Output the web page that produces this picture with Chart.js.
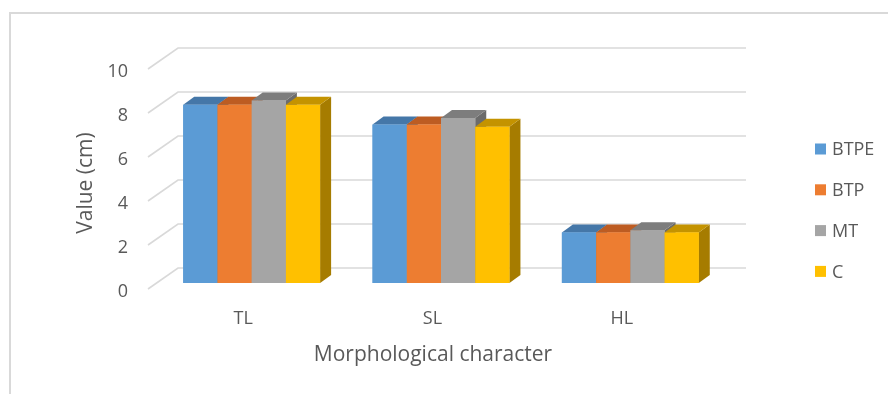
<!DOCTYPE html>
<html>
<head>
<meta charset="utf-8">
<script src="https://cdn.jsdelivr.net/npm/chart.js@4"></script>
<style>
  html, body { margin: 0; padding: 0; background: #ffffff; }
  #wrap { position: relative; width: 888px; height: 394px; }
</style>
</head>
<body>
<div id="wrap"><canvas id="c" width="888" height="394"></canvas></div>
<script>
// Morphological characters measured for four groups (cm)
const categories = ['TL', 'SL', 'HL'];
const seriesNames = ['BTPE', 'BTP', 'MT', 'C'];
const btpeValues = [8.1, 7.2, 2.3];
const btpValues = [8.1, 7.2, 2.3];
const mtValues = [8.3, 7.5, 2.4];
const cValues = [8.1, 7.1, 2.3];
const yTickValues = [0, 2, 4, 6, 8, 10];
const yAxisTitle = 'Value (cm)';
const xAxisTitle = 'Morphological character';

const frontColors = ['#5B9BD5', '#ED7D31', '#A5A5A5', '#FFC000'];
const topColors = ['#4577A8', '#BD5C22', '#7D7D7D', '#C49300'];
const sideColors = ['#3B6894', '#A5501D', '#6B6B6B', '#A67C00'];
const textColor = '#595959';
const FONT = '"Open Sans", Lato, sans-serif';

// depth offsets of the 3D look
const DEPTH = { barDx: 11, barDy: -8, backDx: 21, backDy: -15, frontDx: -9, frontDy: 6 };

const depthPlugin = {
  id: 'depth3d',
  beforeDraw(chart) {
    const ctx = chart.ctx;
    ctx.save();
    ctx.fillStyle = '#ffffff';
    ctx.fillRect(0, 0, chart.width, chart.height);
    // outer frame
    ctx.strokeStyle = '#D9D9D9';
    ctx.lineWidth = 2;
    ctx.beginPath();
    ctx.moveTo(10, chart.height + 2);
    ctx.lineTo(10, 13);
    ctx.lineTo(chart.width + 2, 13);
    ctx.stroke();
    ctx.restore();
  },
  beforeDatasetsDraw(chart) {
    const ctx = chart.ctx;
    const area = chart.chartArea;
    const yScale = chart.scales.y;
    ctx.save();
    ctx.strokeStyle = '#D9D9D9';
    ctx.lineWidth = 1.6;
    yTickValues.forEach(v => {
      const y = yScale.getPixelForValue(v);
      ctx.beginPath();
      ctx.moveTo(area.left + DEPTH.frontDx, y + DEPTH.frontDy);
      ctx.lineTo(area.left + DEPTH.backDx, y + DEPTH.backDy);
      ctx.lineTo(area.right + DEPTH.backDx, y + DEPTH.backDy);
      ctx.stroke();
    });
    ctx.restore();
  },
  afterDatasetsDraw(chart) {
    const ctx = chart.ctx;
    const metas = chart.data.datasets.map((d, i) => chart.getDatasetMeta(i));
    ctx.save();
    for (let c = 0; c < categories.length; c++) {
      metas.forEach((meta, di) => {
        const bar = meta.data[c];
        if (!bar) return;
        const p = bar.getProps(['x', 'y', 'base', 'width'], true);
        const L = p.x - p.width / 2, R = p.x + p.width / 2;
        const top = p.y, base = p.base;
        const dx = DEPTH.barDx, dy = DEPTH.barDy;
        // side face
        ctx.fillStyle = sideColors[di];
        ctx.beginPath();
        ctx.moveTo(R, top); ctx.lineTo(R + dx, top + dy);
        ctx.lineTo(R + dx, base + dy); ctx.lineTo(R, base);
        ctx.closePath(); ctx.fill();
        // top face
        ctx.fillStyle = topColors[di];
        ctx.beginPath();
        ctx.moveTo(L, top); ctx.lineTo(L + dx, top + dy);
        ctx.lineTo(R + dx, top + dy); ctx.lineTo(R, top);
        ctx.closePath(); ctx.fill();
        // front face
        ctx.fillStyle = frontColors[di];
        ctx.fillRect(L, top, R - L, base - top);
      });
    }
    ctx.restore();
  },
  afterDraw(chart) {
    const ctx = chart.ctx;
    ctx.save();
    ctx.fillStyle = textColor;
    // axis titles
    ctx.font = '21px ' + FONT;
    ctx.textAlign = 'center';
    ctx.textBaseline = 'middle';
    ctx.fillText(xAxisTitle, 433, 355);
    ctx.save();
    ctx.translate(86, 183);
    ctx.rotate(-Math.PI / 2);
    ctx.fillText(yAxisTitle, 0, 0);
    ctx.restore();
    // legend
    ctx.font = '18px ' + FONT;
    ctx.textAlign = 'left';
    chart.data.datasets.forEach((ds, i) => {
      const cy = 149 + i * 40.8;
      ctx.fillStyle = frontColors[i];
      ctx.fillRect(815, cy - 5.5, 11, 11);
      ctx.fillStyle = textColor;
      ctx.fillText(ds.label, 832, cy + 1);
    });
    ctx.restore();
  }
};

const allValues = [btpeValues, btpValues, mtValues, cValues];

new Chart(document.getElementById('c'), {
  type: 'bar',
  data: {
    labels: categories,
    datasets: seriesNames.map((name, i) => ({
      label: name,
      data: allValues[i],
      backgroundColor: frontColors[i],
      borderWidth: 0,
      categoryPercentage: 0.723,
      barPercentage: 1.0
    }))
  },
  options: {
    responsive: false,
    animation: false,
    devicePixelRatio: 1,
    layout: { padding: { left: 0, top: 63, right: 163, bottom: 0 } },
    plugins: {
      legend: { display: false },
      tooltip: { enabled: false },
      title: { display: false }
    },
    scales: {
      x: {
        grid: { display: false, drawTicks: false },
        border: { display: false },
        ticks: {
          color: textColor,
          font: { family: FONT, size: 18 },
          padding: 25,
          labelOffset: -8.5
        },
        afterFit(scale) { scale.height = 111; }
      },
      y: {
        min: 0,
        max: 10,
        grid: { display: false, drawTicks: false },
        border: { display: false },
        ticks: {
          stepSize: 2,
          color: textColor,
          font: { family: FONT, size: 18 },
          padding: 29,
          labelOffset: 9
        },
        afterFit(scale) { scale.width = 157; }
      }
    }
  },
  plugins: [depthPlugin]
});
</script>
</body>
</html>
